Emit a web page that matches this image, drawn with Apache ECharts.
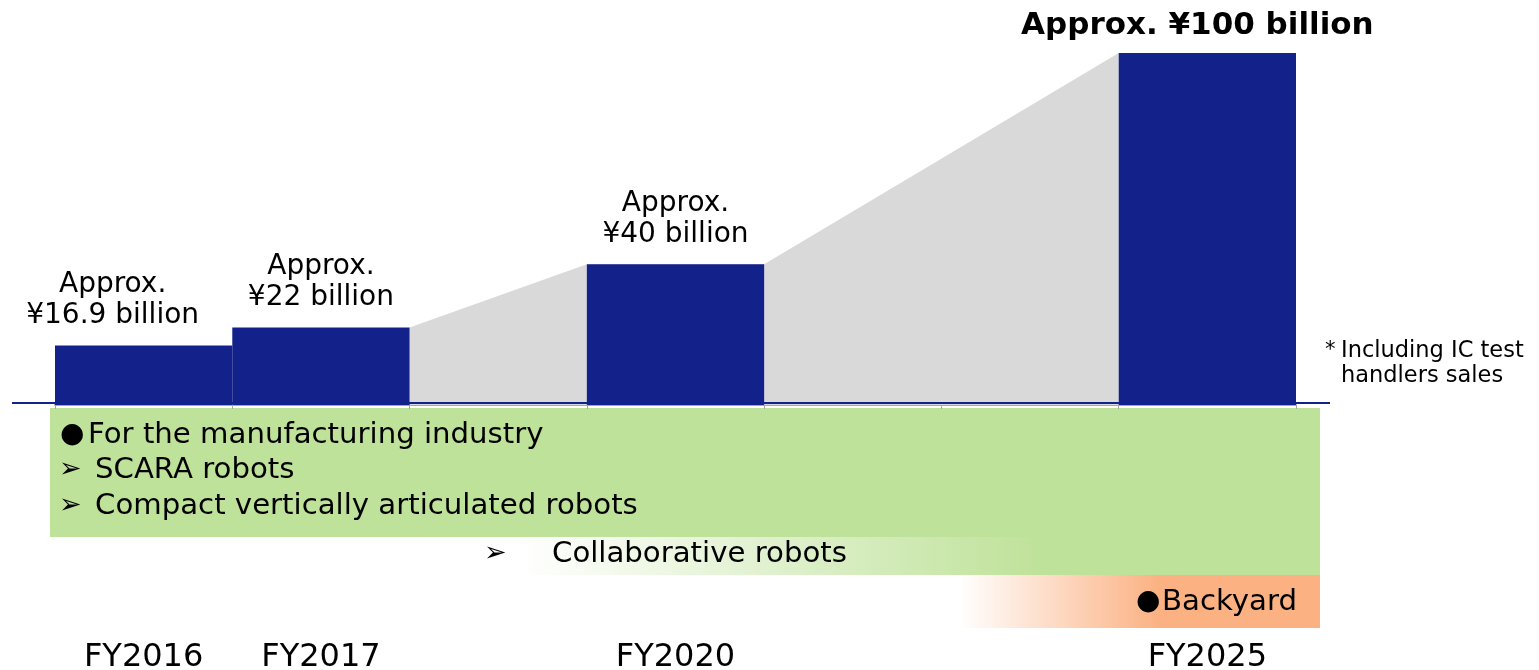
<!DOCTYPE html>
<html>
<head>
<meta charset="utf-8">
<script src="https://cdn.jsdelivr.net/npm/echarts@6/dist/echarts.min.js"></script>
<style>
  html, body { margin: 0; padding: 0; background: #fff; }
  #main { width: 1539px; height: 670px; }
</style>
</head>
<body>
<div id="main"></div>
<script>
let categories = ['FY2016', 'FY2017', '', 'FY2020', '', '', 'FY2025'];
let sales = [16.9, 22, null, 40, null, null, 100];
let salesLabels = ['Approx.\n¥16.9 billion', 'Approx.\n¥22 billion', '', 'Approx.\n¥40 billion', '', '', 'Approx. ¥100 billion'];
// grey growth band, x in category-slot units
let trendPos = [2, 3, 4, 6];
let trendValues = [22, 40, 40, 100];

let FONT = '"DejaVu Sans", Verdana, sans-serif';
let NAVY = '#13218b';
let GREEN = '#bfe29a';
let ORANGE = '#fbb182';

let barData = sales.map(function (v, i) {
  if (v == null) return '-';
  let last = i === sales.length - 1;
  return {
    value: v,
    label: {
      formatter: salesLabels[i],
      fontSize: last ? 31 : 28,
      fontWeight: last ? 'bold' : 'normal',
      lineHeight: 31,
      distance: last ? 12 : 14,
      offset: i === 0 ? [-31, 0] : (last ? [-10, 0] : [0, 0])
    }
  };
});

function txt(x, y, s, size) {
  return {
    type: 'text', x: x, y: y,
    style: { text: s, font: size + 'px ' + FONT, fill: '#000', textVerticalAlign: 'middle', verticalAlign: 'middle' }
  };
}

let chart = echarts.init(document.getElementById('main'));
let option = {
  animation: false,
  textStyle: { fontFamily: FONT },
  grid: { left: 55, right: 243, top: 53, bottom: 265, containLabel: false, outerBoundsMode: 'none' },
  xAxis: [
    {
      type: 'category',
      data: categories,
      axisLine: { lineStyle: { color: '#a6a6a6', width: 2 } },
      axisTick: { show: true, interval: 0, length: 4, lineStyle: { color: '#a6a6a6' } },
      axisLabel: { interval: 0, margin: 237, fontSize: 32, color: '#000', fontFamily: FONT }
    },
    { type: 'value', min: 0, max: 7, show: false }
  ],
  yAxis: { type: 'value', min: 0, max: 100, show: false, splitLine: { show: false } },
  series: [
    {
      type: 'line',
      xAxisIndex: 1,
      data: trendPos.map(function (x, i) { return [x, trendValues[i]]; }),
      symbol: 'none',
      lineStyle: { width: 0 },
      areaStyle: { color: '#d9d9d9', opacity: 1 },
      z: 1,
      silent: true
    },
    {
      type: 'bar',
      data: barData,
      barWidth: '100%',
      itemStyle: { color: NAVY },
      label: { show: true, position: 'top', color: '#000', fontFamily: FONT },
      z: 2
    }
  ],
  graphic: [
    { type: 'line', z: 100, shape: { x1: 12, y1: 403, x2: 1330, y2: 403 }, style: { stroke: NAVY, lineWidth: 2 } },
    { type: 'rect', shape: { x: 50, y: 408, width: 1270, height: 129 }, style: { fill: GREEN } },
    {
      type: 'rect', shape: { x: 50, y: 537, width: 1270, height: 38 },
      style: {
        fill: new echarts.graphic.LinearGradient(0, 0, 1, 0, [
          { offset: 0, color: 'rgba(191,226,154,0)' },
          { offset: 0.37, color: 'rgba(191,226,154,0)' },
          { offset: 0.78, color: GREEN },
          { offset: 1, color: GREEN }
        ])
      }
    },
    {
      type: 'rect', shape: { x: 900, y: 575, width: 420, height: 53 },
      style: {
        fill: new echarts.graphic.LinearGradient(0, 0, 1, 0, [
          { offset: 0, color: 'rgba(251,177,130,0)' },
          { offset: 0.14, color: 'rgba(251,177,130,0)' },
          { offset: 0.62, color: ORANGE },
          { offset: 1, color: ORANGE }
        ])
      }
    },
    txt(60, 435, '●', 28),
    txt(88, 435, 'For the manufacturing industry', 29.2),
    txt(59, 470, '➢', 27),
    txt(95, 470, 'SCARA robots', 29.2),
    txt(59, 506, '➢', 27),
    txt(95, 506, 'Compact vertically articulated robots', 29.2),
    txt(484, 554, '➢', 27),
    txt(552, 554, 'Collaborative robots', 29.2),
    txt(1136, 602, '●', 28),
    txt(1162, 602, 'Backyard', 29.2),
    txt(1325, 351, '*', 21),
    txt(1341, 351, 'Including IC test', 22.5),
    txt(1341, 376, 'handlers sales', 22.5)
  ]
};
chart.setOption(option);
</script>
</body>
</html>
